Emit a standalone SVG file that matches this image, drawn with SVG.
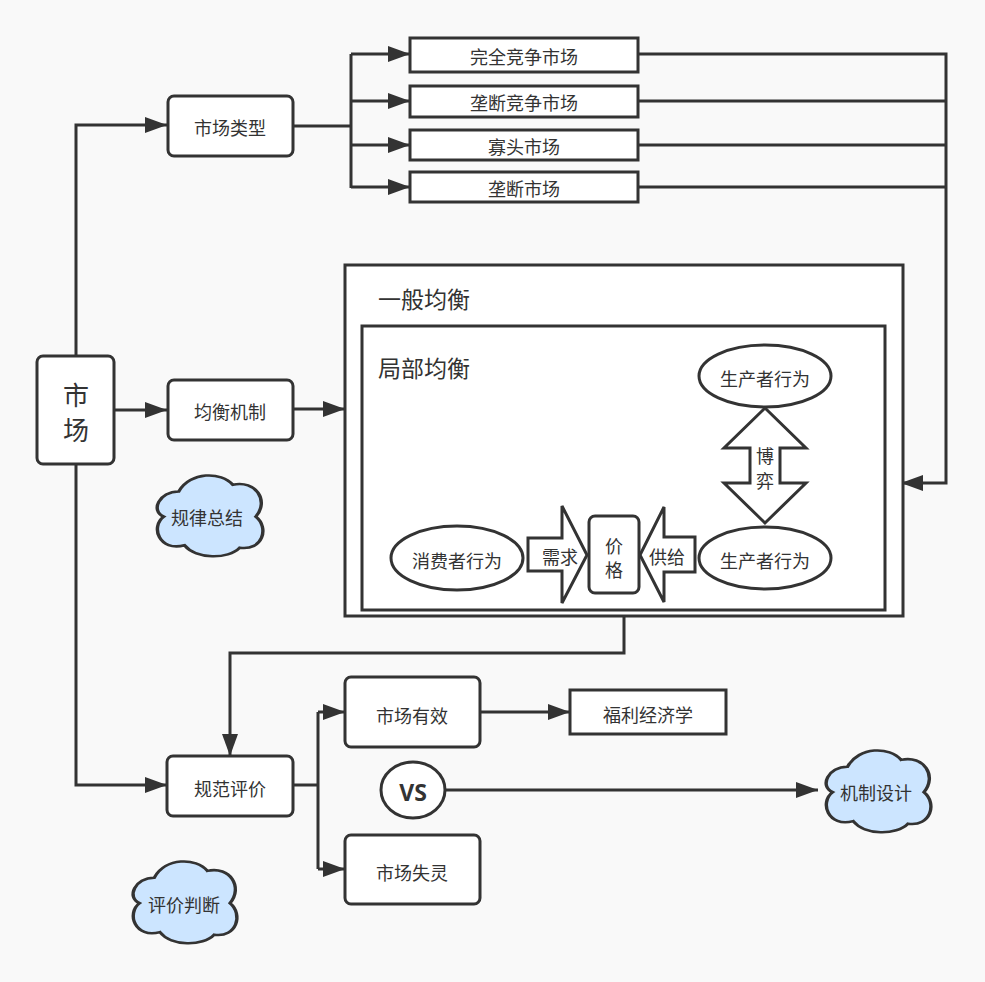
<svg xmlns="http://www.w3.org/2000/svg" width="985" height="982" viewBox="0 0 985 982">
<style>
text{font-family:"Noto Sans CJK SC","Noto Sans",sans-serif;fill:#333;text-anchor:middle;dominant-baseline:central;font-size:18px}
.box{fill:#fff;stroke:#333;stroke-width:3}
.line{fill:none;stroke:#333;stroke-width:3}
.cloud{fill:#cce5ff;stroke:#333;stroke-width:3;vector-effect:non-scaling-stroke}
.title{font-size:23px;text-anchor:start}
</style>
<defs>
<marker id="arr" markerUnits="userSpaceOnUse" markerWidth="24" markerHeight="18" refX="22" refY="8" orient="auto"><path d="M0,0 L22,8 L0,16 Z" fill="#333"/></marker>
<path id="cl" d="M25,22 C8,22 0,45 12,52 C0,64 8,94 30,86 C40,103 68,103 78,89 C98,93 104,65 92,52 C104,33 92,8 72,14 C62,-2 35,-2 25,22 Z"/>
</defs>
<rect width="985" height="982" fill="#f9f9f9"/>

<g id="connectors">
<path class="line" d="M76,356 V125 H167" marker-end="url(#arr)"/>
<path class="line" d="M293,126 H351"/>
<path class="line" d="M351,54 V188"/>
<path class="line" d="M351,54 H410" marker-end="url(#arr)"/>
<path class="line" d="M351,101 H410" marker-end="url(#arr)"/>
<path class="line" d="M351,145 H410" marker-end="url(#arr)"/>
<path class="line" d="M351,187 H410" marker-end="url(#arr)"/>
<path class="line" d="M638,54 H946 V483 H901" marker-end="url(#arr)"/>
<path class="line" d="M638,101 H946"/>
<path class="line" d="M638,145 H946"/>
<path class="line" d="M638,187 H946"/>
<path class="line" d="M114,410 H167" marker-end="url(#arr)"/>
<path class="line" d="M293,409 H345" marker-end="url(#arr)"/>
<path class="line" d="M76,464 V785 H167" marker-end="url(#arr)"/>
<path class="line" d="M624,616 V653 H230 V756" marker-end="url(#arr)"/>
<path class="line" d="M293,785 H318"/>
<path class="line" d="M318,712 V869"/>
<path class="line" d="M318,712 H345" marker-end="url(#arr)"/>
<path class="line" d="M318,869 H345" marker-end="url(#arr)"/>
<path class="line" d="M480,712 H570" marker-end="url(#arr)"/>
<path class="line" d="M445,790 H818" marker-end="url(#arr)"/>
</g>

<g id="market"><rect class="box" x="37" y="356" width="77" height="108" rx="6"/><text x="76" y="393" style="font-size:26px">市</text><text x="76" y="428" style="font-size:26px">场</text></g>
<g id="market-types"><rect class="box" x="168" y="96" width="125" height="60" rx="6"/><text x="230" y="127">市场类型</text></g>
<g id="perfect"><rect class="box" x="410" y="38" width="228" height="34"/><text x="524" y="56">完全竞争市场</text></g>
<g id="monopolistic"><rect class="box" x="410" y="86" width="228" height="31"/><text x="524" y="102">垄断竞争市场</text></g>
<g id="oligopoly"><rect class="box" x="410" y="130" width="228" height="30"/><text x="524" y="146">寡头市场</text></g>
<g id="monopoly"><rect class="box" x="410" y="172" width="228" height="30"/><text x="524" y="188">垄断市场</text></g>

<g id="equilibrium-mech"><rect class="box" x="168" y="380" width="125" height="60" rx="6"/><text x="230" y="411">均衡机制</text></g>

<g id="general-eq"><rect class="box" x="345" y="265" width="558" height="351"/><text class="title" x="378" y="298">一般均衡</text></g>
<g id="partial-eq"><rect class="box" x="362" y="326" width="523" height="284"/><text class="title" x="378" y="367">局部均衡</text></g>

<g id="producer-top"><ellipse class="box" cx="765" cy="376" rx="66" ry="31"/><text x="765" y="378">生产者行为</text></g>
<g id="producer-bottom"><ellipse class="box" cx="765" cy="558" rx="66" ry="31"/><text x="765" y="560">生产者行为</text></g>
<g id="consumer"><ellipse class="box" cx="457" cy="558" rx="66" ry="32"/><text x="457" y="560">消费者行为</text></g>

<g id="game"><polygon class="box" points="765,408 806,448 780,448 780,483 806,483 765,523 724,483 750,483 750,448 724,448"/><text x="765" y="455">博</text><text x="765" y="480">弈</text></g>
<g id="demand"><polygon class="box" points="528,538 562,538 562,506 587,555 562,603 562,571 528,571"/><text x="560" y="556">需求</text></g>
<g id="supply"><polygon class="box" points="695,537 664,537 664,507 640,555 664,602 664,572 695,572"/><text x="667" y="556">供给</text></g>
<g id="price"><rect class="box" x="589" y="516" width="50" height="77" rx="6"/><text x="614" y="545">价</text><text x="614" y="569">格</text></g>

<g id="summary"><use href="#cl" class="cloud" transform="translate(150,473) scale(1.15,0.84)"/><text x="207" y="517">规律总结</text></g>

<g id="normative"><rect class="box" x="167" y="756" width="126" height="60" rx="6"/><text x="230" y="788">规范评价</text></g>
<g id="efficient"><rect class="box" x="345" y="677" width="135" height="70" rx="6"/><text x="412" y="715">市场有效</text></g>
<g id="failure"><rect class="box" x="345" y="835" width="135" height="69" rx="6"/><text x="412" y="872">市场失灵</text></g>
<g id="welfare"><rect class="box" x="570" y="690" width="156" height="44"/><text x="648" y="714">福利经济学</text></g>
<g id="vs"><ellipse class="box" cx="413" cy="790" rx="32" ry="28"/><text x="413" y="792" style="font-family:'Open Sans','Liberation Sans',sans-serif;font-weight:bold;font-size:23px">VS</text></g>
<g id="mechanism"><use href="#cl" class="cloud" transform="translate(819,748) scale(1.14,0.85)"/><text x="876" y="792">机制设计</text></g>
<g id="judgement"><use href="#cl" class="cloud" transform="translate(126,859) scale(1.13,0.85)"/><text x="184" y="904">评价判断</text></g>
</svg>
